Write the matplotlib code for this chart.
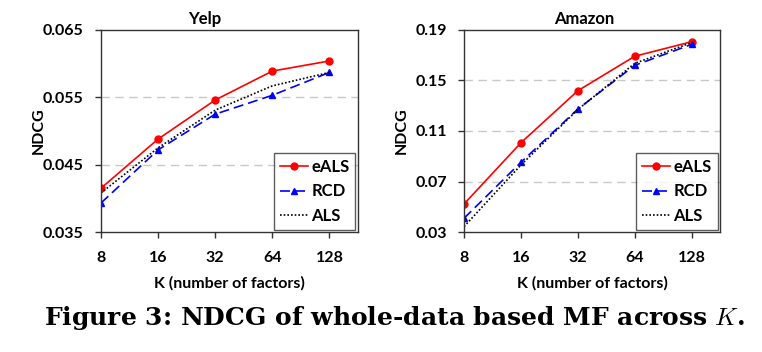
import matplotlib.pyplot as plt
import numpy as np

plt.rcParams['font.family'] = ['Lato', 'DejaVu Sans']
plt.rcParams['font.weight'] = 'bold'
plt.rcParams['axes.labelweight'] = 'bold'
plt.rcParams['axes.titleweight'] = 'bold'
plt.rcParams['mathtext.fontset'] = 'cm'

# data
k = [8, 16, 32, 64, 128]
k_labels = ['8', '16', '32', '64', '128']

yelp_eals = [0.0415, 0.0488, 0.0546, 0.0589, 0.0604]
yelp_rcd = [0.0393, 0.0472, 0.0525, 0.0553, 0.0587]
yelp_als = [0.0408, 0.0475, 0.0531, 0.0567, 0.0587]
yelp_ticks = [0.035, 0.045, 0.055, 0.065]

amazon_eals = [0.0522, 0.1007, 0.1419, 0.1692, 0.1807]
amazon_rcd = [0.0409, 0.0852, 0.1274, 0.1620, 0.1786]
amazon_als = [0.0343, 0.0831, 0.1270, 0.1636, 0.1800]
amazon_ticks = [0.03, 0.07, 0.11, 0.15, 0.19]

fig = plt.figure(figsize=(7.62, 3.52), dpi=100)
ax1 = fig.add_axes([0.1325, 0.3409, 0.3373, 0.5739])
ax2 = fig.add_axes([0.609, 0.3409, 0.336, 0.5739])


def draw(ax, eals, rcd, als, yticks, fmt, title, title_x):
    ax.plot(k, eals, color='red', lw=1.2, marker='o', ms=5, label='eALS')
    ax.plot(k, rcd, color='blue', lw=1.2, ls=(0, (6, 3)), marker='^', ms=5, label='RCD')
    ax.plot(k, als, color='black', lw=1.2, ls=(0, (1, 1.2)), label='ALS')
    ax.set_xscale('log', base=2)
    ax.set_xlim(8, 128 * np.sqrt(2))
    ax.set_xticks(k)
    ax.set_xticklabels(k_labels)
    ax.minorticks_off()
    ax.set_ylim(yticks[0], yticks[-1])
    ax.set_yticks(yticks)
    ax.set_yticklabels([fmt % t for t in yticks])
    for t in yticks[1:-1]:
        ax.axhline(t, color='#c8c8c8', lw=1, ls=(0, (6, 4)), zorder=0)
    for s in ax.spines.values():
        s.set_color('#333333')
        s.set_linewidth(1.0)
    ax.tick_params(labelsize=11.5, length=4.5, width=1, color='#333333')
    ax.tick_params(axis='y', pad=8)
    ax.tick_params(axis='x', pad=9)
    ax.set_xlabel('K (number of factors)', fontsize=11.5, labelpad=8)
    ax.set_ylabel('NDCG', fontsize=11.5)
    ax.yaxis.set_label_coords(-0.215, 0.5)
    ax.set_title(title, fontsize=12, x=title_x, pad=4)
    leg = ax.legend(loc='lower right', fontsize=12, frameon=True, fancybox=False,
                    edgecolor='#333333', handlelength=1.7, handletextpad=0.2,
                    borderpad=0.35, labelspacing=0.5, borderaxespad=0.15)
    leg.get_frame().set_linewidth(1.0)


draw(ax1, yelp_eals, yelp_rcd, yelp_als, yelp_ticks, '%.3f', 'Yelp', 0.405)
draw(ax2, amazon_eals, amazon_rcd, amazon_als, amazon_ticks, '%.2f', 'Amazon', 0.47)

fig.text(0.517, 0.097, r'Figure 3: NDCG of whole-data based MF across $K$.',
         family='DejaVu Serif', weight='bold', fontsize=18, ha='center', va='center')

fig.savefig('out.png', dpi=100)
